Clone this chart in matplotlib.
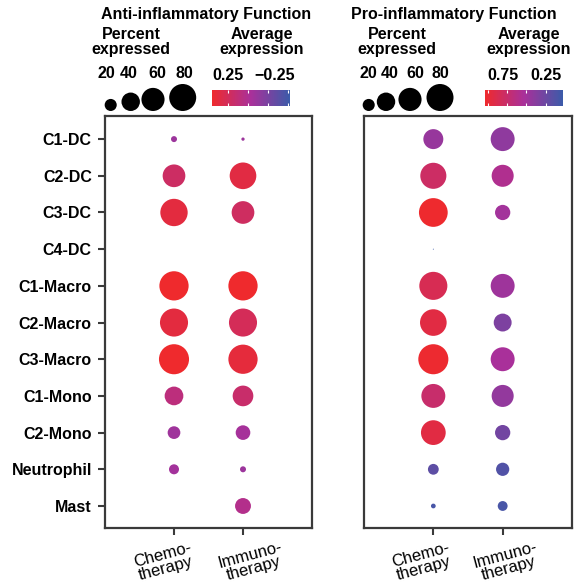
import numpy as np
import matplotlib
matplotlib.use("Agg")
import matplotlib.pyplot as plt
from matplotlib.colors import LinearSegmentedColormap, Normalize
from matplotlib.transforms import ScaledTranslation, blended_transform_factory
import matplotlib.colorbar as mcolorbar

plt.rcParams['font.family'] = ['Liberation Sans', 'DejaVu Sans']

# ---- data ----
cell_types = ["C1-DC", "C2-DC", "C3-DC", "C4-DC", "C1-Macro", "C2-Macro",
              "C3-Macro", "C1-Mono", "C2-Mono", "Neutrophil", "Mast"]
treatments = ["Chemo-\ntherapy", "Immuno-\ntherapy"]

# Anti-inflammatory function (NaN = no dot)
anti_pct_chemo = [8.7, 58, 82, np.nan, 93, 86, 98, 41, 21.6, 15.3, np.nan]
anti_pct_immuno = [6.1, 78, 58, np.nan, 93, 86, 93, 49, 27, 8.7, 31]
anti_avg_chemo = [-0.09, 0.21, 0.37, np.nan, 0.45, 0.37, 0.45, 0.10, -0.08, -0.06, np.nan]
anti_avg_immuno = [-0.09, 0.35, 0.22, np.nan, 0.45, 0.26, 0.38, 0.18, -0.05, -0.09, 0.03]
anti_limits = (-0.52, 0.45)
anti_ticks = [0.25, 0, -0.25, -0.5]
anti_ticklabels = ["0.25", "", "\u22120.25", ""]

# Pro-inflammatory function
pro_pct_chemo = [46, 75, 90, 5.1, 86, 78, 98, 64, 68, 17, 7.3]
pro_pct_immuno = [64, 55, 29, np.nan, 64, 38, 64, 55, 29, 23, 15]
pro_avg_chemo = [0.45, 0.78, 1.03, 0.03, 0.86, 0.93, 1.02, 0.75, 0.93, 0.18, 0.09]
pro_avg_immuno = [0.41, 0.58, 0.50, np.nan, 0.48, 0.33, 0.53, 0.43, 0.28, 0.13, 0.09]
pro_limits = (0.025, 1.035)
pro_ticks = [1.0, 0.75, 0.5, 0.25]
pro_ticklabels = ["", "0.75", "", "0.25"]

legend_pct = [20, 40, 60, 80]

cmap = LinearSegmentedColormap.from_list(
    "expr", ["#3B5BA9", "#A9309A", "#EF2A2D"])

W, H = 574, 585
fig = plt.figure(figsize=(W / 100, H / 100), dpi=100)


def box(x0, y0, x1, y1):
    return [x0 / W, 1 - y1 / H, (x1 - x0) / W, (y1 - y0) / H]


def shift(tr, dx, dy):
    # offset in pixels (dy positive = up)
    return tr + ScaledTranslation(dx / 100, dy / 100, fig.dpi_scale_trans)


def dot_px(p):
    p = np.asarray(p, dtype=float)
    return 27 * np.sqrt(np.clip(p - 5, 0, None) / 75)


def dot_area(p):
    return (dot_px(p) * 0.72) ** 2


spine_col = "#3a3a3a"
FS = 11.5


def panel(rect, pct_lists, avg_lists, limits, show_y, xshift):
    ax = fig.add_axes(rect)
    norm = Normalize(*limits)
    y = np.arange(len(cell_types))
    for i, (pct, avg) in enumerate(zip(pct_lists, avg_lists)):
        pct = np.array(pct, dtype=float)
        avg = np.array(avg, dtype=float)
        ok = ~np.isnan(pct)
        ax.scatter(np.full(ok.sum(), i), y[ok], s=dot_area(pct[ok]),
                   c=avg[ok], cmap=cmap, norm=norm, edgecolors="none",
                   zorder=3)
    ax.set_xlim(-1, 2)
    ax.set_ylim(len(cell_types) - 1 + 0.6, -0.63)
    ax.set_xticks(range(len(treatments)))
    ax.set_xticklabels([])
    tr = blended_transform_factory(ax.transData, ax.transAxes)
    for i, (lab, dx) in enumerate(zip(treatments, xshift)):
        ax.text(i, 0, lab, transform=shift(tr, dx, -34), rotation=15,
                ha="center", va="center", fontsize=12, linespacing=0.95,
                clip_on=False)
    ax.set_yticks(y)
    if show_y:
        ax.set_yticklabels(cell_types, fontsize=FS, fontweight="bold")
    else:
        ax.tick_params(axis="y", left=False, labelleft=False)
    ax.tick_params(length=5, width=1.5, color=spine_col, pad=4.5)
    for s in ax.spines.values():
        s.set_color(spine_col)
        s.set_linewidth(1.6)
    return ax


panel(box(105, 116, 312, 528), [anti_pct_chemo, anti_pct_immuno],
      [anti_avg_chemo, anti_avg_immuno], anti_limits, True, [-10, 9])
panel(box(364, 116, 572, 528), [pro_pct_chemo, pro_pct_immuno],
      [pro_avg_chemo, pro_avg_immuno], pro_limits, False, [-11, 4])

# ---- legends ----
lax = fig.add_axes([0, 0, 1, 1], zorder=-1)
lax.set_xlim(0, W)
lax.set_ylim(H, 0)
lax.axis("off")

bold = dict(fontweight="bold", fontsize=FS, ha="center", va="center")


def legend_block(title, title_x, pct_x, num_x, circ_x, avg_x):
    lax.text(title_x, 15, title, **bold)
    lax.text(pct_x, 42, "Percent\nexpressed", linespacing=1.05, **bold)
    lax.text(avg_x, 42, "Average\nexpression", linespacing=1.05, **bold)
    for v, nx in zip(legend_pct, num_x):
        lax.text(nx, 73, str(v), **bold)
    d = dot_px(legend_pct)
    lax.scatter(circ_x, 111 - d / 2, s=dot_area(legend_pct), c="black",
                edgecolors="none")


legend_block("Anti-inflammatory Function", 206, 131,
             [106, 129, 157, 184], [110.7, 130.7, 153, 182.7], 262)
legend_block("Pro-inflammatory Function", 454, 397,
             [368, 390, 415, 440], [368.7, 386, 410, 440], 529)


def colorbar(rect, limits, ticks, labels, label_dx):
    cax = fig.add_axes(rect)
    cb = mcolorbar.ColorbarBase(cax, cmap=cmap, norm=Normalize(*limits),
                                orientation="horizontal")
    cb.outline.set_visible(False)
    cax.invert_xaxis()
    cax.set_xticks(ticks)
    cax.set_xticklabels([])
    cax.tick_params(axis="x", direction="in", top=True, bottom=True,
                    labeltop=False, labelbottom=False, color="white",
                    length=2, width=0.8)
    tr = blended_transform_factory(cax.transData, cax.transAxes)
    for t, lab, dx in zip(ticks, labels, label_dx):
        if lab:
            cax.text(t, 1, lab, transform=shift(tr, dx, 15), ha="center",
                     va="center", clip_on=False, fontsize=FS,
                     fontweight="bold")


colorbar(box(212, 90, 290, 106), anti_limits, anti_ticks, anti_ticklabels,
         [0, 0, 6, 0])
colorbar(box(485, 90, 563, 106), pro_limits, pro_ticks, pro_ticklabels,
         [0, -4, 0, 0])

fig.savefig("out.png", dpi=100)
